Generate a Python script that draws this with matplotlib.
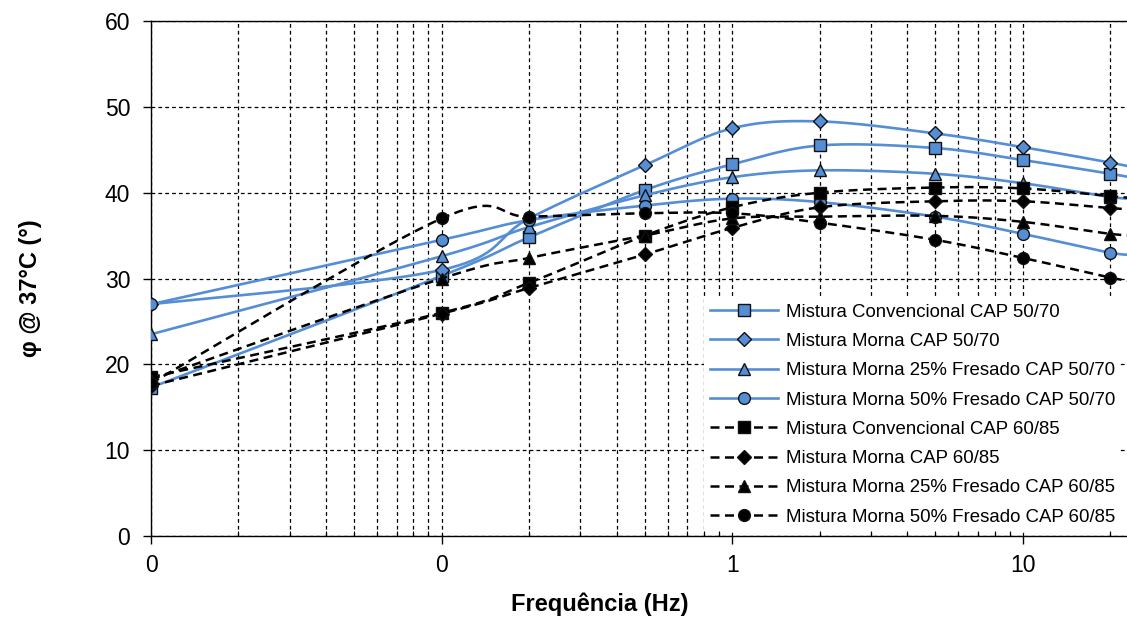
import numpy as np
import matplotlib
matplotlib.use('Agg')
import matplotlib.pyplot as plt
from matplotlib.lines import Line2D
from matplotlib.ticker import LogLocator, FuncFormatter, MultipleLocator, NullFormatter

plt.rcParams['font.family'] = ['Liberation Sans', 'DejaVu Sans']

# frequencias (Hz)
freq = [0.01, 0.1, 0.2, 0.5, 1, 2, 5, 10, 20, 25]

# angulo de fase @ 37C - CAP 50/70
conv_5070 = [17.3, 30.3, 34.8, 40.3, 43.3, 45.5, 45.2, 43.8, 42.2, 41.6]
morna_5070 = [27.0, 31.0, 37.0, 43.2, 47.5, 48.3, 46.9, 45.3, 43.5, 42.8]
m25_5070 = [23.5, 32.6, 36.0, 39.7, 41.8, 42.6, 42.2, 41.1, 39.5, 39.3]
m50_5070 = [27.0, 34.5, 36.8, 38.5, 39.3, 38.9, 37.2, 35.2, 33.0, 32.8]

# angulo de fase @ 37C - CAP 60/85
conv_6085 = [18.5, 26.0, 29.5, 35.0, 38.3, 40.0, 40.6, 40.5, 39.6, 39.3]
morna_6085 = [17.5, 25.9, 28.9, 32.8, 35.9, 38.3, 39.0, 39.0, 38.2, 38.0]
m25_6085 = [18.2, 30.0, 32.4, 35.0, 37.0, 37.2, 37.3, 36.6, 35.2, 35.0]
m50_6085 = [17.8, 37.0, 37.2, 37.6, 37.6, 36.5, 34.5, 32.4, 30.1, 29.6]

labels = ['Mistura Convencional CAP 50/70', 'Mistura Morna CAP 50/70',
          'Mistura Morna 25% Fresado CAP 50/70', 'Mistura Morna 50% Fresado CAP 50/70',
          'Mistura Convencional CAP 60/85', 'Mistura Morna CAP 60/85',
          'Mistura Morna 25% Fresado CAP 60/85', 'Mistura Morna 50% Fresado CAP 60/85']
series = [conv_5070, morna_5070, m25_5070, m50_5070,
          conv_6085, morna_6085, m25_6085, m50_6085]
markers = ['s', 'D', '^', 'o', 's', 'D', '^', 'o']

BLUE = '#558ED5'
DASH = (0, (3.6, 2.2))


def smooth(x, y, n=40):
    # linha suavizada tipo Excel (Catmull-Rom) no espaco log-x
    lx = np.log10(x)
    y = np.asarray(y, float)
    px = np.concatenate([[lx[0]], lx, [lx[-1]]])
    py = np.concatenate([[y[0]], y, [y[-1]]])
    t = np.linspace(0, 1, n)
    xs, ys = [], []
    for i in range(1, len(px) - 2):
        for p, out in ((px, xs), (py, ys)):
            p0, p1, p2, p3 = p[i - 1], p[i], p[i + 1], p[i + 2]
            c1 = p1 + (p2 - p0) / 6
            c2 = p2 - (p3 - p1) / 6
            out.append((1 - t) ** 3 * p1 + 3 * (1 - t) ** 2 * t * c1
                       + 3 * (1 - t) * t ** 2 * c2 + t ** 3 * p2)
    return 10 ** np.concatenate(xs), np.concatenate(ys)


fig = plt.figure(figsize=(11.27, 6.21), dpi=100)
ax = fig.add_axes([151 / 1127, 85 / 621, 976 / 1127, 515 / 621])

handles = []
for i, (vals, mk) in enumerate(zip(series, markers)):
    blue = i < 4
    color = BLUE if blue else 'black'
    ls = '-' if blue else DASH
    lw = 1.9 if blue else 1.8
    ms = 7 if mk == 'D' else 8.5
    sx, sy = smooth(freq, vals)
    ax.plot(sx, sy, color=color, ls=ls, lw=lw, zorder=3 + 2 * i)
    ax.plot(freq, vals, ls='none', marker=mk, ms=ms, mfc=color, mec='#111111',
            mew=1.0, zorder=4 + 2 * i)
    handles.append(Line2D([], [], color=color, ls=ls, lw=lw,
                          marker=mk, ms=ms, mfc=color, mec='#111111', mew=1.0))

ax.set_xscale('log')
ax.set_xlim(0.01, 22.8)
ax.set_ylim(0, 60)
ax.yaxis.set_major_locator(MultipleLocator(10))
ax.xaxis.set_major_locator(LogLocator(base=10))
ax.xaxis.set_minor_locator(LogLocator(base=10, subs=range(2, 10), numticks=20))
ax.xaxis.set_major_formatter(FuncFormatter(lambda v, p: f'{v:.0f}'))
ax.xaxis.set_minor_formatter(NullFormatter())

grid_kw = dict(color='black', lw=0.9, ls=(0, (3, 2.5)))
ax.grid(True, which='both', axis='x', **grid_kw)
ax.grid(True, which='major', axis='y', **grid_kw)
ax.set_axisbelow(True)

ax.spines['right'].set_visible(False)
for s in ('left', 'bottom', 'top'):
    ax.spines[s].set_linewidth(1.0)

ax.tick_params(axis='x', which='major', direction='out', length=5.5, width=1,
               pad=7.5, labelsize=16.5)
ax.tick_params(axis='x', which='minor', direction='in', length=3.5, width=0.8)
ax.tick_params(axis='y', which='major', direction='out', length=5.5, width=1,
               pad=9.5, labelsize=16.5)

fig.text(600 / 1127, 1 - 604 / 621, 'Frequência (Hz)', ha='center', va='center',
         fontsize=17, fontweight='bold')
fig.text(30 / 1127, 1 - 288 / 621, 'φ @ 37°C (°)', ha='center', va='center',
         rotation=90, fontsize=17, fontweight='bold')

leg = ax.legend(handles, labels, loc='upper left',
                bbox_to_anchor=(704 / 1127, 1 - 298 / 621),
                bbox_transform=fig.transFigure, frameon=True, fontsize=13.4,
                handlelength=3.65, handletextpad=0.43, labelspacing=0.66,
                borderpad=0.3, borderaxespad=0, fancybox=False)
leg.get_frame().set_facecolor('white')
leg.get_frame().set_edgecolor('none')
leg.get_frame().set_alpha(1)
leg.set_zorder(30)

fig.savefig('out.png', dpi=100)
